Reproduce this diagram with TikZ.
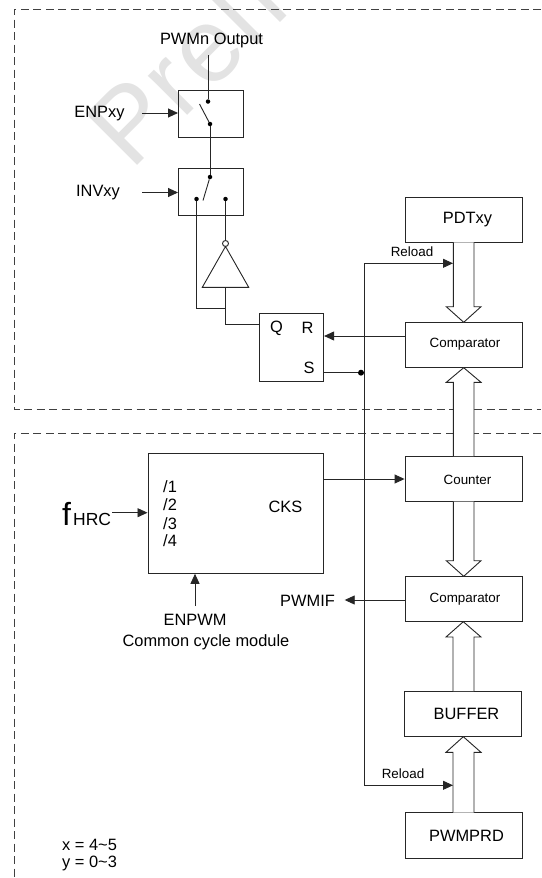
\documentclass[tikz,border=0pt]{standalone}
\usepackage{fontspec}
\setmainfont{Liberation Sans}
\usetikzlibrary{arrows.meta}
\tikzset{
  ln/.style={draw=black!85,line width=0.9pt},
  arr/.style={ln,-{Triangle[length=10pt,width=9pt]}},
  bx/.style={ln,rectangle,inner sep=0pt,minimum width=117pt,minimum height=45.4pt},
  sw/.style={ln,rectangle,inner sep=0pt,minimum width=64.5pt,minimum height=47pt},
  bounds/.style={draw=black!75,line width=0.9pt,dash pattern=on 8pt off 4.5pt},
  big/.style={font=\fontsize{16.4}{18}\selectfont,inner sep=0pt},
  small/.style={font=\fontsize{13.4}{15}\selectfont,inner sep=0pt},
  dot/.style={circle,fill=black,inner sep=0pt,minimum size=4.5pt},
  hollow/.style={ln,fill=white}
}
\begin{document}
\begin{tikzpicture}[x=1pt,y=-1pt]
\useasboundingbox (0,0) rectangle (541,878);
\fill[white] (0,0) rectangle (541,878);
% watermark
\begin{scope}
\clip (0,0) rectangle (541,878);
\node[text=black!11,rotate=45,anchor=base west,inner sep=0pt,font=\fontsize{105}{105}\selectfont] (wm) at (131,172) {P\kern3pt r\kern3pt e\kern3pt l\kern9pt i};
\end{scope}
% dashed regions
\coordinate (t1) at (541,9); \coordinate (t2) at (14,9); \coordinate (t3) at (14,409.5); \coordinate (t4) at (541,409.5);
\draw[bounds] (t1) -- (t2) -- (t3) -- (t4);
\coordinate (b1) at (541,433); \coordinate (b2) at (14,433); \coordinate (b3) at (14,878);
\draw[bounds] (b1) -- (b2) -- (b3);
% boxes
\node[sw] (sw1) at (210.7,113.7) {};
\node[sw] (sw2) at (210.7,191.5) {};
\node[ln,rectangle,inner sep=0pt,minimum width=64.7pt,minimum height=68pt] (sr) at (291.3,347) {};
\node[bx] (pdt) at (463.5,219.7) {};
\node[big] at (467.5,219.5) {PDTxy};
\node[bx] (cmp1) at (463.5,345) {};
\node[small] at (465,344) {Comparator};
\node[bx] (cnt) at (463.5,478.8) {};
\node[small] at (467.5,479.5) {Counter};
\node[bx] (cmp2) at (463.5,599) {};
\node[small] at (465,599) {Comparator};
\node[bx] (buf) at (463.3,713.8) {};
\node[big] at (466.5,713.5) {BUFFER};
\node[bx] (prd) at (463.5,835.5) {};
\node[big] at (466.5,835.5) {PWMPRD};
\node[ln,rectangle,inner sep=0pt,minimum width=175.7pt,minimum height=120.3pt] (cks) at (235.8,513.2) {};
% hollow arrows
\draw[hollow] (453.3,242.3) -- (453.3,306.7) -- (446.3,306.7) -- (463.7,322.3) -- (481,306.7) -- (474,306.7) -- (474,242.3);
\draw[hollow] (453.3,456) -- (453.3,382.3) -- (446.3,382.3) -- (463.7,367.7) -- (481,382.3) -- (474,382.3) -- (474,456);
\draw[hollow] (453.3,501.7) -- (453.3,560.7) -- (446.3,560.7) -- (463.7,576.3) -- (481,560.7) -- (474,560.7) -- (474,501.7);
\draw[hollow] (453,691) -- (453,637) -- (446,637) -- (463.3,621.7) -- (481,637) -- (474,637) -- (474,691);
\draw[hollow] (453,812.7) -- (453,752.3) -- (446,752.3) -- (463.3,736.7) -- (481,752.3) -- (474,752.3) -- (474,812.7);
% switch 1
\node[big] (out) at (211.5,40) {PWMn Output};
\node[dot] (d1) at (208,101.5) {};
\node[dot] (d2) at (210,124) {};
\coordinate (o1) at (208,55);
\draw[ln] (o1) -- (d1);
\coordinate (bl1) at (199.5,104);
\draw[ln] (bl1) -- (d2);
\node[big] (enp) at (99.5,114) {ENPxy};
\coordinate (ea) at (142,113);
\draw[arr] (ea) -- (sw1.west |- ea);
% switch 2
\node[dot] (d3) at (210,177) {};
\node[dot] (d4) at (196.5,199) {};
\node[dot] (d5) at (225.5,199) {};
\draw[ln] (d2) -- (d3);
\coordinate (bl2) at (203,200.5);
\draw[ln] (d3) -- (bl2);
\node[big] (inv) at (98,193) {INVxy};
\coordinate (ia) at (142,192.5);
\draw[arr] (ia) -- (sw2.west |- ia);
% inverter
\node[ln,circle,inner sep=0pt,minimum size=6pt,fill=white] (bub) at (225.5,243.5) {};
\draw[ln] (d5) -- (bub);
\coordinate (ta) at (225.5,246.5); \coordinate (tl) at (202.3,287.3); \coordinate (tr) at (248.7,287.3); \coordinate (tb) at (225.5,287.3);
\draw[ln] (ta) -- (tl) -- (tr) -- cycle;
\coordinate (qin) at (225.5,324);
\coordinate (j) at (225.5,308.3); \coordinate (jl) at (196.5,308.3);
\draw[ln] (d4) -- (jl) -- (j);
\draw[ln] (tb) -- (qin) -- (qin -| sr.west);
% SR
\node[big] at (276.6,328) {Q};
\node[big] at (307.5,328) {R};
\node[big] at (309,368) {S};
\coordinate (ra) at (405,336);
\draw[arr] (ra) -- (ra -| sr.east);
\node[dot,minimum size=6pt] (jd) at (361,372.7) {};
\draw[ln] (sr.east |- jd) -- (jd);
% Reload bus
\coordinate (rt) at (364.3,263.3); \coordinate (rb) at (364.3,785.3);
\coordinate (rte) at (453,263.3); \coordinate (rbe) at (453,785.3);
\draw[ln] (rb) -- (rt);
\draw[arr] (rt) -- (rte);
\draw[arr] (rb) -- (rbe);
\node[small] at (412,252) {Reload};
\node[small] at (403,773.5) {Reload};
% CKS
\coordinate (ck) at (323.7,479);
\draw[arr] (ck) -- (ck -| cnt.west);
\coordinate (fa) at (112,512.7);
\draw[arr] (fa) -- (fa -| cks.west);
\node[anchor=base west,inner sep=0pt,font=\fontsize{32}{32}\selectfont] (fh) at (62,525) {f};
\node[anchor=base west,inner sep=0pt,font=\fontsize{17.5}{18}\selectfont] (hrc) at (73,525) {HRC};
\node[big,anchor=west] at (163,487) {/1};
\node[big,anchor=west] at (163,505) {/2};
\node[big,anchor=west] at (163,523.5) {/3};
\node[big,anchor=west] at (163,540.5) {/4};
\node[big] at (285.5,507) {CKS};
\coordinate (ea2) at (195,606);
\draw[arr] (ea2) -- (ea2 |- cks.south);
\node[big] at (195,620) {ENPWM};
\node[big] at (206,642) {Common cycle module};
% PWMIF
\coordinate (pa) at (405,600); \coordinate (pe) at (344.7,600);
\draw[arr] (pa) -- (pe);
\node[big] at (307.5,600.5) {PWMIF};
\node[big,anchor=west] at (62,845) {x = 4\textasciitilde 5};
\node[big,anchor=west] at (62,863) {y = 0\textasciitilde 3};
\end{tikzpicture}
\end{document}
